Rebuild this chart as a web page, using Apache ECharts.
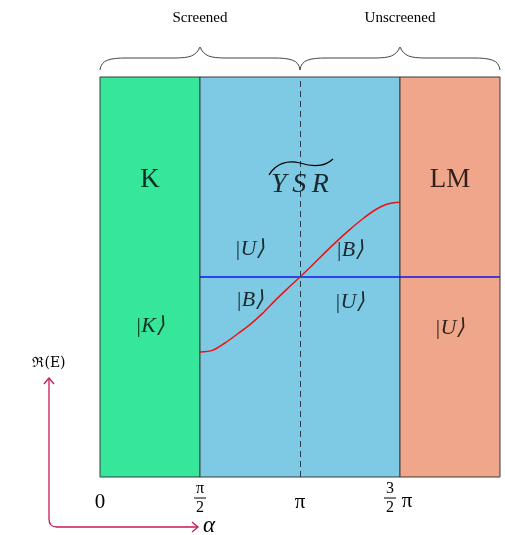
<!DOCTYPE html>
<html><head><meta charset="utf-8">
<script src="https://cdn.jsdelivr.net/npm/echarts@6/dist/echarts.min.js"></script>
<style>html,body{margin:0;padding:0;background:#fff}#c{width:505px;height:535px}</style>
</head><body><div id="c"></div>
<script>
// x in units of pi/2, y in arbitrary units (-1..1)
var regionNames = ['K', 'YSR', 'LM'];
var regionStart = [0, 1, 3];
var regionEnd = [1, 3, 4];
var regionColors = ['#36e69a', '#7ecae4', '#f0a68a'];
var curveX = [1, 1.125, 1.25, 1.375, 1.5, 1.625, 1.75, 1.875, 2, 2.125, 2.25, 2.375, 2.5, 2.625, 2.75, 2.875, 3];
var curveY = [-0.375, -0.367, -0.33, -0.285, -0.238, -0.182, -0.118, -0.058, 0, 0.06, 0.122, 0.182, 0.238, 0.29, 0.335, 0.365, 0.374];
var flatX = [1, 4];
var flatY = [0, 0];
var dashX = 2;
var tickValues = [0, 1, 2, 3];
var tickLabels = ['{a|0}', '{n|π}\n{d|2}', '{a|π}', '{m|3}\n{e|2}'];
var stateLabels = ['|U⟩', '|B⟩', '|B⟩', '|U⟩', '|K⟩', '|U⟩'];
var stateX = [1.5, 2.5, 1.5, 2.5, 0.5, 3.5];
var stateY = [0.14, 0.135, -0.115, -0.125, -0.245, -0.255];
var titleLabels = ['K', 'Y\u2009S\u2009R', 'LM'];
var titleX = [0.5, 2, 3.5];
var titleY = [0.485, 0.46, 0.485];
var groupLabels = ['Screened', 'Unscreened'];

var chart = echarts.init(document.getElementById('c'));
var serif = 'Liberation Serif';
function pairs(xs, ys) { return xs.map(function (x, i) { return [x, ys[i]]; }); }
var fracStyle = { fontFamily: serif, fontSize: 16, color: '#000', lineHeight: 19 };

var option = {
  animation: false,
  grid: { left: 100, top: 77, width: 400, height: 400, containLabel: false },
  xAxis: {
    type: 'value', min: 0, max: 4,
    axisLine: { show: false }, axisTick: { show: false }, splitLine: { show: false },
    axisLabel: {
      customValues: tickValues, margin: 21, verticalAlign: 'middle',
      formatter: function (v) { return tickLabels[tickValues.indexOf(v)]; },
      rich: {
        a: { fontFamily: serif, fontSize: 21, color: '#000', lineHeight: 24, padding: [8, 0, 0, 0] },
        n: fracStyle,
        d: fracStyle,
        m: Object.assign({}, fracStyle, { padding: [0, 20, 0, 0] }),
        e: Object.assign({}, fracStyle, { padding: [0, 20, 0, 0] })
      }
    }
  },
  yAxis: { type: 'value', min: -1, max: 1, show: false },
  series: [
    {
      type: 'line', data: [], silent: true,
      markArea: {
        silent: true,
        data: regionNames.map(function (n, i) {
          return [{ xAxis: regionStart[i], yAxis: -1, itemStyle: { color: regionColors[i], borderColor: '#3a3a3a', borderWidth: 1 } },
                  { xAxis: regionEnd[i], yAxis: 1 }];
        })
      },
      markLine: {
        silent: true, symbol: 'none', label: { show: false },
        lineStyle: { color: '#2e3e48', type: [6, 4], width: 1 },
        data: [{ xAxis: dashX }]
      }
    },
    {
      type: 'line', data: pairs(flatX, flatY), symbol: 'none',
      lineStyle: { color: '#1515ee', width: 1.5 }, z: 3
    },
    {
      type: 'line', data: pairs(curveX, curveY), symbol: 'none', smooth: 0.3,
      lineStyle: { color: '#ee1111', width: 1.5 }, z: 4
    },
    {
      type: 'scatter', symbolSize: 0, z: 5,
      data: pairs(titleX, titleY).map(function (p, i) { return { value: p, name: titleLabels[i] }; }),
      label: {
        show: true, position: 'inside',
        formatter: function (p) {
          return p.dataIndex === 1 ? '{i|' + p.name + '}' : '{r|' + p.name + '}';
        },
        rich: {
          r: { fontFamily: serif, fontSize: 27, color: '#000' },
          i: { fontFamily: serif, fontStyle: 'italic', fontSize: 28, color: '#000' }
        }
      }
    },
    {
      type: 'scatter', symbolSize: 0, z: 5,
      data: pairs(stateX, stateY).map(function (p, i) { return { value: p, name: stateLabels[i] }; }),
      label: {
        show: true, position: 'inside', color: '#000',
        fontFamily: serif, fontStyle: 'italic', fontSize: 22,
        formatter: function (p) { return p.name; }
      }
    }
  ]
};
chart.setOption(option);

function px(x, y) { return chart.convertToPixel({ gridIndex: 0 }, [x, y]); }
var pL = px(0, 1), pM = px(2, 1), pR = px(4, 1), pQ1 = px(1, 1), pQ3 = px(3, 1);
var p1 = px(1, -1), p3 = px(3, -1);
var braceStyle = { fill: null, stroke: '#444', lineWidth: 1 };
function brace(x0, x1, xm, top) {
  var yb = top - 7, yh = top - 19, yt = top - 30;
  function c(a, c1, c2, b) { return { type: 'bezierCurve', shape: { x1: a[0], y1: a[1], cpx1: c1[0], cpy1: c1[1], cpx2: c2[0], cpy2: c2[1], x2: b[0], y2: b[1] }, style: braceStyle }; }
  function l(a, b) { return { type: 'line', shape: { x1: a[0], y1: a[1], x2: b[0], y2: b[1] }, style: braceStyle }; }
  return [
    c([x0, yb], [x0 + 1, yh + 2], [x0 + 10, yh], [x0 + 26, yh]),
    l([x0 + 26, yh], [xm - 26, yh]),
    c([xm - 26, yh], [xm - 10, yh], [xm - 4, yh - 2], [xm, yt]),
    c([xm, yt], [xm + 4, yh - 2], [xm + 10, yh], [xm + 26, yh]),
    l([xm + 26, yh], [x1 - 26, yh]),
    c([x1 - 26, yh], [x1 - 10, yh], [x1 - 1, yh + 2], [x1, yb])
  ];
}
var crim = '#c8175a';
var arrowStyle = { fill: null, stroke: crim, lineWidth: 1.3 };
var ysr = px(2, 0.475);
var tl = { fill: null, stroke: '#000', lineWidth: 1.2 };
var g = [].concat(
  brace(pL[0], pM[0], pQ1[0], pL[1]),
  brace(pM[0], pR[0], pQ3[0], pL[1]),
  [
    { type: 'text', x: pQ1[0], y: 18, style: { text: groupLabels[0], fontFamily: serif, fontSize: 15, fill: '#000', align: 'center', verticalAlign: 'middle' } },
    { type: 'text', x: pQ3[0], y: 18, style: { text: groupLabels[1], fontFamily: serif, fontSize: 15, fill: '#000', align: 'center', verticalAlign: 'middle' } },
    { type: 'bezierCurve', z: 10, shape: { x1: ysr[0] - 31, y1: ysr[1] - 7, cpx1: ysr[0] - 24, cpy1: ysr[1] - 19, cpx2: ysr[0] - 12, cpy2: ysr[1] - 22, x2: ysr[0], y2: ysr[1] - 19 }, style: tl },
    { type: 'bezierCurve', z: 10, shape: { x1: ysr[0], y1: ysr[1] - 19, cpx1: ysr[0] + 10, cpy1: ysr[1] - 16, cpx2: ysr[0] + 24, cpy2: ysr[1] - 14, x2: ysr[0] + 33, y2: ysr[1] - 23 }, style: tl },
    { type: 'line', shape: { x1: p1[0] - 6, y1: 498, x2: p1[0] + 6, y2: 498 }, style: { stroke: '#000', lineWidth: 1 } },
    { type: 'line', shape: { x1: p3[0] - 16, y1: 498, x2: p3[0] - 4, y2: 498 }, style: { stroke: '#000', lineWidth: 1 } },
    { type: 'text', x: p3[0] + 7, y: 501, style: { text: 'π', fontFamily: serif, fontSize: 21, fill: '#000', align: 'center', verticalAlign: 'middle' } },
    { type: 'polyline', shape: { points: [[49, 378], [49, 519]] }, style: arrowStyle },
    { type: 'bezierCurve', shape: { x1: 49, y1: 519, cpx1: 49, cpy1: 527, x2: 57, y2: 527 }, style: arrowStyle },
    { type: 'polyline', shape: { points: [[57, 527], [198, 527]] }, style: arrowStyle },
    { type: 'polyline', shape: { points: [[44, 384], [49, 378], [54, 384]] }, style: arrowStyle },
    { type: 'polyline', shape: { points: [[192, 522], [198, 527], [192, 532]] }, style: arrowStyle },
    { type: 'text', x: 49, y: 363, style: { text: 'ℜ(E)', fontFamily: 'DejaVu Serif', fontSize: 14, fill: '#000', align: 'center', verticalAlign: 'middle' } },
    { type: 'text', x: 209, y: 526, style: { text: 'α', fontFamily: serif, fontStyle: 'italic', fontSize: 23, fill: '#000', align: 'center', verticalAlign: 'middle' } }
  ]
);
chart.setOption({ graphic: g });
</script></body></html>
